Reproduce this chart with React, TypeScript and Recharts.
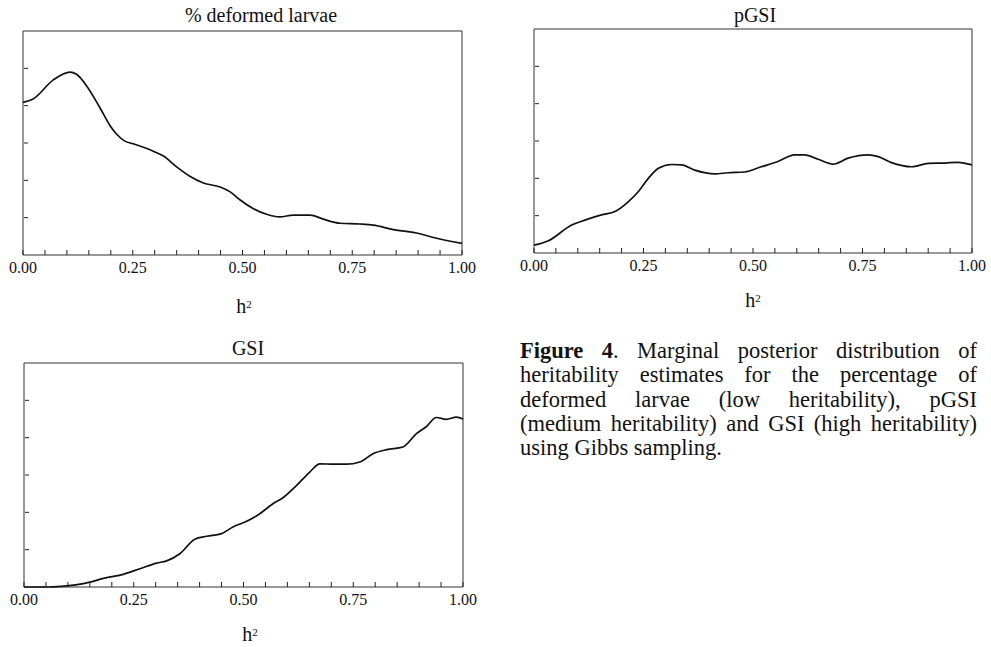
import { LineChart, Line, XAxis, YAxis, ReferenceArea } from 'recharts';

// posterior density curves, h² on x, density in y tick units (0..6)
const larvaeH = [0, 0.023, 0.069, 0.107, 0.122, 0.145, 0.175, 0.198, 0.213, 0.232, 0.251, 0.297, 0.32, 0.35, 0.38, 0.411, 0.449, 0.472, 0.494, 0.525, 0.555, 0.585, 0.616, 0.654, 0.684, 0.722, 0.768, 0.798, 0.844, 0.897, 0.935, 1.0];
const larvaeDensity = [4.09, 4.18, 4.69, 4.9, 4.84, 4.53, 3.95, 3.47, 3.24, 3.05, 2.98, 2.78, 2.65, 2.36, 2.11, 1.93, 1.82, 1.69, 1.48, 1.24, 1.09, 1.02, 1.07, 1.07, 0.96, 0.85, 0.83, 0.8, 0.68, 0.59, 0.47, 0.31];

const pgsiH = [0, 0.033, 0.086, 0.116, 0.154, 0.185, 0.215, 0.238, 0.261, 0.284, 0.314, 0.337, 0.367, 0.413, 0.443, 0.481, 0.519, 0.557, 0.595, 0.618, 0.649, 0.683, 0.717, 0.763, 0.786, 0.816, 0.862, 0.9, 0.938, 0.968, 1.0];
const pgsiDensity = [0.21, 0.33, 0.75, 0.88, 1.02, 1.11, 1.37, 1.64, 2.0, 2.27, 2.37, 2.36, 2.22, 2.12, 2.15, 2.17, 2.31, 2.45, 2.63, 2.63, 2.51, 2.38, 2.54, 2.63, 2.58, 2.42, 2.31, 2.4, 2.41, 2.43, 2.36];

const gsiH = [0, 0.059, 0.097, 0.135, 0.188, 0.226, 0.264, 0.302, 0.325, 0.355, 0.389, 0.416, 0.45, 0.476, 0.507, 0.537, 0.567, 0.59, 0.621, 0.651, 0.674, 0.704, 0.734, 0.765, 0.795, 0.826, 0.863, 0.894, 0.917, 0.939, 0.962, 0.985, 1.0];
const gsiDensity = [0, 0, 0.03, 0.09, 0.25, 0.34, 0.49, 0.64, 0.7, 0.89, 1.28, 1.36, 1.43, 1.61, 1.76, 1.96, 2.23, 2.39, 2.72, 3.08, 3.3, 3.29, 3.29, 3.35, 3.57, 3.68, 3.75, 4.11, 4.3, 4.54, 4.49, 4.55, 4.5];

const xTicks = [0, 0.05, 0.1, 0.15, 0.2, 0.25, 0.3, 0.35, 0.4, 0.45, 0.5, 0.55, 0.6, 0.65, 0.7, 0.75, 0.8, 0.85, 0.9, 0.95, 1];
const xMajor = [0, 0.25, 0.5, 0.75, 1];
const yTicks = [1, 2, 3, 4, 5];

const captionLines = [
  'Marginal posterior distribution of',
  'heritability estimates for the percentage of',
  'deformed larvae (low heritability), pGSI',
  '(medium heritability) and GSI (high heritability)',
  'using Gibbs sampling.',
];

const serif = '"Liberation Serif", "Times New Roman", serif';

const toRows = (h: number[], d: number[]) => h.map((v, i) => ({ h: v, d: d[i] }));

const XTick = ({ x, y, payload }: any) => {
  const major = xMajor.some((m) => Math.abs(m - payload.value) < 1e-6);
  return (
    <g>
      <line x1={x} x2={x} y1={y} y2={y - 5} stroke="#222" strokeWidth={1} />
      {major && (
        <text x={x} y={y + 18} textAnchor="middle" fontFamily={serif} fontSize={16} fill="#111">
          {payload.value.toFixed(2)}
        </text>
      )}
    </g>
  );
};

// inward tick on the left frame edge (axis is 1px wide, so x is the frame line)
const YTick = ({ x, y }: any) => (
  <line x1={x + 1} x2={x + 5} y1={y} y2={y} stroke="#222" strokeWidth={1} />
);

function Panel({ rows, left, top, margin, title, titleX, titleY, labelY, labelX }: any) {
  return (
    <>
      <div style={{ position: 'absolute', left, top }}>
        <LineChart width={480} height={290} data={rows} margin={margin}>
          <XAxis
            type="number"
            dataKey="h"
            domain={[0, 1]}
            ticks={xTicks}
            interval={0}
            height={30}
            axisLine={false}
            tickLine={false}
            tickSize={0}
            tickMargin={0}
            tick={<XTick />}
          />
          <YAxis
            type="number"
            domain={[0, 6]}
            ticks={yTicks}
            interval={0}
            width={1}
            axisLine={false}
            tickLine={false}
            tickSize={0}
            tickMargin={0}
            tick={<YTick />}
          />
          <ReferenceArea x1={0} x2={1} y1={0} y2={6} fill="none" stroke="#333" strokeWidth={1} />
          <Line
            type="monotone"
            dataKey="d"
            stroke="#111"
            strokeWidth={1.7}
            dot={false}
            isAnimationActive={false}
          />
        </LineChart>
      </div>
      <div
        style={{
          position: 'absolute', left: titleX - 150, top: titleY - 17, width: 300, textAlign: 'center',
          fontFamily: serif, fontSize: 20, lineHeight: '20px', color: '#111',
        }}
      >
        {title}
      </div>
      <div
        style={{
          position: 'absolute', left: labelX - 50, top: labelY - 16, width: 100, textAlign: 'center',
          fontFamily: serif, fontSize: 20, lineHeight: '20px', color: '#111',
        }}
      >
        h<sup style={{ fontSize: 11, verticalAlign: 'top', position: 'relative', top: -2 }}>2</sup>
      </div>
    </>
  );
}

export default function App() {
  return (
    <div style={{ position: 'absolute', left: 0, top: 0, width: 991, height: 647, background: '#fff', overflow: 'hidden' }}>
      <Panel
        rows={toRows(larvaeH, larvaeDensity)}
        left={0}
        top={0}
        margin={{ top: 31, right: 18, left: 22, bottom: 5 }}
        title="% deformed larvae"
        titleX={261}
        titleY={22}
        labelX={244}
        labelY={312}
      />
      <Panel
        rows={toRows(pgsiH, pgsiDensity)}
        left={510}
        top={0}
        margin={{ top: 29, right: 18, left: 23, bottom: 7 }}
        title="pGSI"
        titleX={755}
        titleY={22}
        labelX={753}
        labelY={306}
      />
      <Panel
        rows={toRows(gsiH, gsiDensity)}
        left={0}
        top={330}
        margin={{ top: 33, right: 17, left: 23, bottom: 3 }}
        title="GSI"
        titleX={248}
        titleY={355}
        labelX={250}
        labelY={640}
      />
      <div style={{ position: 'absolute', left: 520, top: 339, width: 457, fontFamily: serif, fontSize: 22.5, lineHeight: '24.3px', color: '#111' }}>
        {captionLines.map((line, i) => (
          <div
            key={i}
            style={{
              textAlign: 'justify',
              textAlignLast: i < captionLines.length - 1 ? 'justify' : 'left',
              whiteSpace: 'nowrap',
            }}
          >
            {i === 0 && <b>Figure 4</b>}
            {i === 0 ? '. ' : ''}
            {line}
          </div>
        ))}
      </div>
    </div>
  );
}
